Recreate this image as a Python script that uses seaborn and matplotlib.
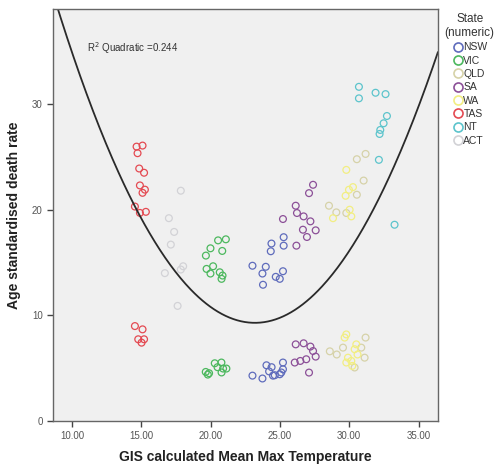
import numpy as np
import pandas as pd
import matplotlib
matplotlib.use("Agg")
import matplotlib.pyplot as plt
from matplotlib.lines import Line2D
import seaborn as sns

sns.set_theme(style="white")
plt.rcParams['font.family'] = ['Liberation Sans', 'DejaVu Sans']

states = ["NSW", "VIC", "QLD", "SA", "WA", "TAS", "NT", "ACT"]
colors = ["#5f6cbc", "#4cb85e", "#d6d2a8", "#8c5098", "#f2ee82", "#e44a52", "#5cc4cc", "#d2d2d6"]

nsw_temp = [24.39, 25.27, 25.27, 24.34, 23.02, 23.98, 23.74, 24.70, 24.99, 25.22, 23.78,
            23.02, 23.74, 24.03, 24.40, 24.22, 24.63, 24.99, 25.22, 25.22, 25.10, 24.50]
nsw_rate = [16.8, 17.4, 16.6, 16.07, 14.7, 14.6, 13.96, 13.65, 13.46, 14.18, 12.9,
            4.3, 4.03, 5.28, 5.1, 4.7, 4.34, 4.43, 5.54, 4.9, 4.6, 4.3]

vic_temp = [20.54, 21.10, 19.99, 20.84, 19.66, 20.18, 19.71, 19.99, 20.66, 20.86, 20.79,
            20.30, 20.78, 19.65, 19.89, 20.90, 21.14, 20.79, 20.50, 19.80]
vic_rate = [17.1, 17.2, 16.35, 16.1, 15.66, 14.65, 14.4, 13.96, 14.08, 13.77, 13.46,
            5.47, 5.54, 4.65, 4.53, 4.97, 4.97, 4.6, 5.1, 4.4]

qld_temp = [30.55, 31.18, 31.04, 30.55, 28.54, 29.07, 29.79,
            31.18, 30.87, 29.55, 31.11, 30.39, 28.60, 29.10]
qld_rate = [24.78, 25.28, 22.76, 21.42, 20.38, 19.75, 19.69,
            7.9, 6.95, 6.95, 6.0, 5.07, 6.6, 6.3]

sa_temp = [27.39, 27.10, 26.14, 26.23, 26.71, 27.20, 25.22, 26.66, 27.58, 26.95, 26.19,
           26.14, 26.71, 27.20, 27.39, 27.58, 26.07, 26.47, 26.90, 27.10]
sa_rate = [22.36, 21.57, 20.38, 19.69, 19.37, 18.9, 19.12, 18.11, 18.05, 17.42, 16.6,
           7.26, 7.36, 7.05, 6.63, 6.1, 5.54, 5.69, 5.85, 4.59]

wa_temp = [29.74, 29.98, 30.27, 29.79, 30.15, 30.03, 28.83,
           29.79, 29.67, 30.51, 30.39, 29.91, 30.15, 29.79, 30.22, 30.60]
wa_rate = [21.32, 21.89, 22.14, 23.77, 19.37, 20.0, 19.2,
           8.2, 7.9, 7.26, 6.8, 6.0, 5.69, 5.54, 5.22, 6.3]

tas_temp = [14.66, 15.09, 14.73, 14.85, 15.20, 14.90, 15.26, 15.09, 14.54, 14.90, 15.33,
            14.54, 15.09, 14.78, 15.20, 15.02]
tas_rate = [25.97, 26.07, 25.35, 23.9, 23.5, 22.3, 21.9, 21.6, 20.3, 19.7, 19.8,
            8.99, 8.68, 7.74, 7.74, 7.42]

nt_temp = [30.70, 30.70, 31.90, 32.62, 32.72, 32.48, 32.24, 32.19, 32.14, 33.27]
nt_rate = [31.63, 30.54, 31.07, 30.94, 28.87, 28.18, 27.55, 27.17, 24.72, 18.58]

act_temp = [17.85, 16.99, 17.37, 17.13, 18.02, 17.85, 16.70, 17.62]
act_rate = [21.8, 19.2, 17.9, 16.7, 14.65, 14.34, 14.0, 10.9]

# quadratic fit (R2 = 0.244): rate = c0 + c1*t + c2*t^2
fit_c0, fit_c1, fit_c2 = 88.4, -6.82, 0.147

x_ticks = [10, 15, 20, 25, 30, 35]
x_tick_labels = ["10.00", "15.00", "20.00", "25.00", "30.00", "35.00"]
y_ticks = [0, 10, 20, 30]

temps = [nsw_temp, vic_temp, qld_temp, sa_temp, wa_temp, tas_temp, nt_temp, act_temp]
rates = [nsw_rate, vic_rate, qld_rate, sa_rate, wa_rate, tas_rate, nt_rate, act_rate]
rows = []
for s, t, r in zip(states, temps, rates):
    for a, b in zip(t, r):
        rows.append((s, a, b))
df = pd.DataFrame(rows, columns=["State", "Temp", "Rate"])

fig = plt.figure(figsize=(4.98, 4.71), dpi=100)
ax = fig.add_axes([0.1064, 0.106, 0.773, 0.875])
ax.set_facecolor("#f0f0f0")

palette = dict(zip(states, colors))
sns.scatterplot(data=df, x="Temp", y="Rate", hue="State", hue_order=states,
                palette=palette, s=24, marker="o", linewidth=0.9, legend=False, ax=ax)
for coll in ax.collections:
    fc = coll.get_facecolors()
    coll.set_edgecolors(fc)
    coll.set_facecolors("none")

xlo, xhi = 8.63, 36.4
xs = np.linspace(xlo, xhi, 300)
curve = pd.DataFrame({"Temp": xs, "Rate": fit_c0 + fit_c1 * xs + fit_c2 * xs ** 2})
sns.lineplot(data=curve, x="Temp", y="Rate", color="#2a2a2a", linewidth=1.3, ax=ax)

ax.set_xlim(xlo, xhi)
ax.set_ylim(0, 39)
ax.set_xticks(x_ticks)
ax.set_xticklabels(x_tick_labels)
ax.set_yticks(y_ticks)
ax.tick_params(axis="both", direction="out", length=4, width=1, colors="#444444",
               labelsize=7, labelcolor="#555555", bottom=True, left=True)
for sp in ax.spines.values():
    sp.set_color("#666666")
    sp.set_linewidth(1.0)

ax.set_xlabel("GIS calculated Mean Max Temperature", fontsize=10, fontweight="bold",
              color="#222222", labelpad=6)
ax.set_ylabel("Age standardised death rate", fontsize=10, fontweight="bold",
              color="#222222", labelpad=8)

ax.text(0.088, 0.905, "R$^2$ Quadratic =0.244", transform=ax.transAxes, fontsize=7,
        color="#333333", va="center", ha="left")

handles = [Line2D([0], [0], marker="o", linestyle="none", markerfacecolor="none",
                  markeredgecolor=c, markersize=6.5, markeredgewidth=1.2) for c in colors]
leg = fig.legend(handles, states, title="State\n(numeric)", loc="upper left",
                 bbox_to_anchor=(0.893, 0.972), frameon=False, fontsize=7.5,
                 title_fontsize=8.5, handletextpad=0.0, labelspacing=0.32,
                 handlelength=1.1, borderaxespad=0, borderpad=0)
leg.get_title().set_multialignment("center")
leg.get_title().set_color("#333333")
for t in leg.get_texts():
    t.set_color("#333333")

fig.savefig("out.png", dpi=100)
